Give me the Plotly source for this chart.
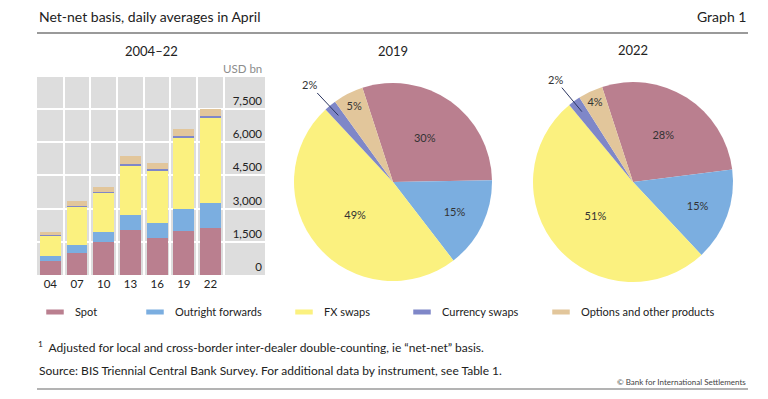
import math
import plotly.graph_objects as go

# ---------------- data ----------------
years = ["04", "07", "10", "13", "16", "19", "22"]
spot = [631, 1005, 1489, 2047, 1652, 1979, 2107]
outright_forwards = [209, 362, 475, 679, 700, 999, 1163]
fx_swaps = [954, 1714, 1759, 2240, 2378, 3202, 3810]
currency_swaps = [21, 31, 43, 54, 82, 108, 124]
options_other = [119, 212, 207, 337, 254, 294, 304]

series_names = ["Spot", "Outright forwards", "FX swaps", "Currency swaps",
                "Options and other products"]
pie_2019 = [30, 15, 49, 2, 5]
pie_2022 = [28, 15, 51, 2, 4]
y_ticks = [0, 1500, 3000, 4500, 6000, 7500]

colors = ["#BA7F8F", "#7BAEE0", "#FBF17F", "#7F87C8", "#E2C69B"]
FONT = "Lato"
W, H = 768, 399
PIE_ROTATION = -18


def px_x(v):
    return v / W


def px_y(v):
    return 1 - v / H


fig = go.Figure()

bar_series = [spot, outright_forwards, fx_swaps, currency_swaps, options_other]
for name, vals, col in zip(series_names, bar_series, colors):
    fig.add_trace(go.Bar(x=years, y=vals, name=name, marker=dict(color=col, line=dict(width=0)),
                         showlegend=False, hoverinfo="skip"))

# legend entries (one legend each, so spacing can follow the original)
legend_ids = ["legend", "legend2", "legend3", "legend4", "legend5"]
text_x = [75, 175, 324, 442, 581]
for name, col, lid in zip(series_names, colors, legend_ids):
    fig.add_trace(go.Scatter(x=[None], y=[None], mode="markers", name=name,
                             marker=dict(symbol="line-ew", size=12.5, color=col,
                                         line=dict(color=col, width=6)),
                             legend=lid, showlegend=True, hoverinfo="skip"))

pie_centers = [(393, 182, 99), (633, 182, 100)]
pie_annotations = []
for vals, (cx, cy, r) in zip([pie_2019, pie_2022], pie_centers):
    fig.add_trace(go.Pie(
        values=vals, labels=series_names, sort=False, direction="clockwise",
        rotation=PIE_ROTATION, marker=dict(colors=colors, line=dict(width=0)),
        texttemplate="%{value}%", textposition=["inside", "inside", "inside", "none", "inside"],
        insidetextorientation="horizontal",
        textfont=dict(family=FONT, size=11, color="#333333"),
        domain=dict(x=[px_x(cx - r), px_x(cx + r)], y=[px_y(cy + r), px_y(cy - r)]),
        showlegend=False, hoverinfo="skip"))
    # leader label for the thin currency-swaps slice, placed from the slice's mid angle
    total = sum(vals)
    start = PIE_ROTATION + sum(vals[:3]) / total * 360
    mid = math.radians(start + vals[3] / total * 360 / 2)
    dx, dy = math.sin(mid), -math.cos(mid)
    hx, hy = cx + 0.87 * r * dx, cy + 0.87 * r * dy
    pie_annotations.append(dict(
        text=f"{vals[3]}%", x=px_x(hx), y=px_y(hy), showarrow=True, arrowhead=0,
        arrowwidth=1, arrowcolor="#2B3560", ax=dx * 42 - 2, ay=dy * 42 + 2, standoff=0,
        font=dict(size=11, color="#333333")))

layout_legends = {}
for lid, tx in zip(legend_ids, text_x):
    layout_legends[lid] = dict(x=px_x(tx - 40), y=px_y(312), xanchor="left", yanchor="middle",
                               orientation="h", bgcolor="rgba(0,0,0,0)",
                               font=dict(family=FONT, size=11, color="#222222"))

fig.update_layout(
    width=W, height=H, margin=dict(l=0, r=0, t=0, b=0),
    paper_bgcolor="white", plot_bgcolor="#DDDDDD",
    barmode="stack", bargap=0.22,
    font=dict(family=FONT, size=12, color="#222222"),
    xaxis=dict(type="category", domain=[px_x(37), px_x(265)], range=[-0.5, 8.04],
               tickson="boundaries", showgrid=True, gridcolor="white", gridwidth=1.5,
               ticks="", showline=False, zeroline=False,
               tickfont=dict(family=FONT, size=11.5, color="#222222")),
    yaxis=dict(domain=[px_y(275), px_y(77)], range=[0, 8950], tickvals=y_ticks,
               tickformat=",", side="right", ticklabelposition="inside top",
               showgrid=True, gridcolor="white", gridwidth=1.5, ticks="",
               zeroline=False, showline=False,
               tickfont=dict(family=FONT, size=11.5, color="#222222")),
    **layout_legends,
)

ann = [
    dict(text="Net-net basis, daily averages in April", x=px_x(37), y=px_y(17),
         xanchor="left", yanchor="middle", font=dict(size=14)),
    dict(text="Graph 1", x=px_x(748), y=px_y(17), xanchor="right", yanchor="middle",
         font=dict(size=14)),
    dict(text="2004–22", x=px_x(151), y=px_y(51), xanchor="center", yanchor="middle",
         font=dict(size=13)),
    dict(text="2019", x=px_x(393), y=px_y(51), xanchor="center", yanchor="middle",
         font=dict(size=13)),
    dict(text="2022", x=px_x(633), y=px_y(50), xanchor="center", yanchor="middle",
         font=dict(size=13)),
    dict(text="USD bn", x=px_x(264), y=px_y(69), xanchor="right", yanchor="middle",
         font=dict(size=11.5, color="#8C8C8C")),
    dict(text="<sup>1</sup>&nbsp;&nbsp;Adjusted for local and cross-border inter-dealer double-counting, ie “net-net” basis.",
         x=px_x(36), y=px_y(347), xanchor="left", yanchor="middle", font=dict(size=12)),
    dict(text="Source: BIS Triennial Central Bank Survey. For additional data by instrument, see Table 1.",
         x=px_x(37), y=px_y(370), xanchor="left", yanchor="middle", font=dict(size=12)),
    dict(text="© Bank for International Settlements", x=px_x(748), y=px_y(382),
         xanchor="right", yanchor="middle", font=dict(size=8, color="#444444")),
] + pie_annotations
for a in ann:
    a.update(xref="paper", yref="paper")
    a.setdefault("showarrow", False)
    a.setdefault("font", {})
    a["font"].setdefault("family", FONT)
    a["font"].setdefault("color", "#222222")
fig.update_layout(annotations=ann)

fig.update_layout(shapes=[
    dict(type="line", xref="paper", yref="paper", x0=px_x(37), x1=px_x(748),
         y0=px_y(33), y1=px_y(33), line=dict(color="#9A9A9A", width=2)),
    dict(type="line", xref="paper", yref="paper", x0=px_x(37), x1=px_x(748),
         y0=px_y(389), y1=px_y(389), line=dict(color="#9A9A9A", width=1.5)),
])

fig.write_html("out.html", config={"displayModeBar": False},
               post_script="document.body.style.margin='0px';")
